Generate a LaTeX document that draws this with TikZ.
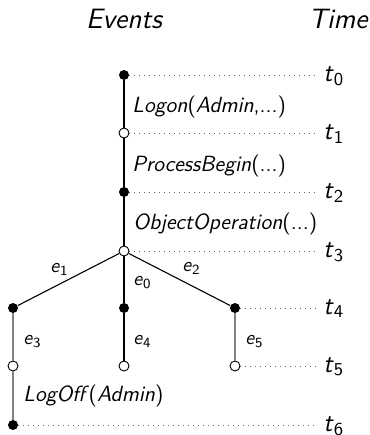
\documentclass[tikz,border=0pt]{standalone}
\usepackage{tikz}
\renewcommand{\familydefault}{\sfdefault}

\newcommand{\tlab}[1]{\textit{t}\textsubscript{#1}}
\newcommand{\elab}[1]{\textit{e}\textsubscript{#1}}

\begin{document}
\begin{tikzpicture}[x=0.5pt,y=-0.5pt,
    full/.style={circle,fill=black,inner sep=0pt,minimum size=5pt},
    hollow/.style={circle,draw=black,fill=white,inner sep=0pt,minimum size=5pt,line width=0.45pt},
    guide/.style={dotted,line width=0.5pt,gray!80!black},
    branch/.style={line width=0.55pt},
    late/.style={line width=0.55pt,gray},
    head/.style={font=\fontsize{14}{17}\selectfont\itshape,anchor=base,inner sep=0pt},
    call/.style={font=\fontsize{11}{13}\selectfont,anchor=base west,inner sep=0pt},
    elbl/.style={font=\fontsize{10}{12}\selectfont,anchor=base west,inner sep=0pt},
    tlbl/.style={font=\fontsize{13}{15}\selectfont,anchor=base west,inner sep=0pt}]
    \useasboundingbox (0,0) rectangle (370,435);

    % headings
    \node[head] (events) at (124,28) {Events};
    \node[head] (time) at (338,28) {Time};

    % events on the trunk
    \node[full] (n0) at (124,75) {};
    \node[hollow] (n1) at (124,133) {};
    \node[full] (n2) at (124,192) {};
    \node[hollow] (n3) at (124,251) {};

    % branches
    \node[full] (a4) at (13,308) {};
    \node[full] (b4) at (124,308) {};
    \node[full] (c4) at (235,308) {};
    \node[hollow] (a5) at (13,366) {};
    \node[hollow] (b5) at (124,366) {};
    \node[hollow] (c5) at (235,366) {};
    \node[full] (a6) at (13,425) {};

    \draw[branch] (n0) -- (n1) -- (n2) -- (n3);
    \draw[branch] (n3) -- (a4);
    \draw[branch] (n3) -- (b4) -- (b5);
    \draw[branch] (n3) -- (c4);
    \draw[late] (a4) -- (a5) -- (a6);
    \draw[late] (c4) -- (c5);

    % time axis
    \foreach \r/\y in {0/75,1/133,2/192,3/251,4/308,5/366,6/425} {
        \coordinate (g\r) at (317,\y);
        \node[tlbl] (t\r) at (323,{\y+6}) {\tlab{\r}};
    }
    \draw[guide] (n0) -- (g0);
    \draw[guide] (n1) -- (g1);
    \draw[guide] (n2) -- (g2);
    \draw[guide] (n3) -- (g3);
    \draw[guide] (c4) -- (g4);
    \draw[guide] (c5) -- (g5);
    \draw[guide] (a6) -- (g6);

    % calls
    \node[call] (logon) at (132,112) {\textit{Logon}(\textit{Admin},...)};
    \node[call] (procbegin) at (132,171) {\textit{ProcessBegin}(...)};
    \node[call] (objop) at (133,229) {\textit{ObjectOperation}(...)};
    \node[call] (logoff) at (23,401) {\textit{LogOff\,}(\textit{Admin})};

    % edge names
    \node[elbl] (e1) at (50,272) {\elab{1}};
    \node[elbl] (e2) at (182,271) {\elab{2}};
    \node[elbl] (e0) at (133,285) {\elab{0}};
    \node[elbl] (e3) at (23,344) {\elab{3}};
    \node[elbl] (e4) at (133,344) {\elab{4}};
    \node[elbl] (e5) at (245,344) {\elab{5}};
\end{tikzpicture}
\end{document}
